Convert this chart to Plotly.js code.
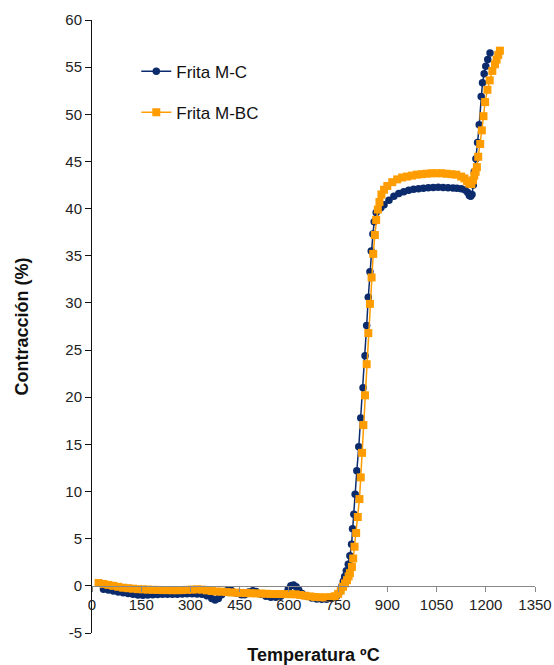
<!DOCTYPE html>
<html>
<head>
<meta charset="utf-8">
<script src="https://cdn.plot.ly/plotly-3.0.1.min.js"></script>
<style>html,body{margin:0;padding:0;background:#fff;}#chart{width:554px;height:665px;}</style>
</head>
<body>
<div id="chart"></div>
<script>
// Frita M-C (navy, circles)
const tempMC = [35,50,65,80,95,110,125,140,155,170,185,200,215,230,245,260,275,290,305,320,335,350,365,375,385,395,405,415,425,440,455,465,478,490,500,515,530,545,560,575,588,598,606,614,622,630,640,655,670,685,700,715,730,745,752,758,762,766,770,775,781,786,791,794,798,802,807,813,819,826,832,837,842,847,851,856,860,866,872,880,890,905,920,935,950,965,980,995,1010,1025,1040,1055,1070,1085,1100,1112,1125,1137,1145,1150,1154,1158,1162,1165,1170,1175,1180,1186,1190,1195,1200,1206,1213];
const contrMC = [-0.35,-0.45,-0.55,-0.65,-0.73,-0.82,-0.9,-0.97,-1.0,-0.98,-0.95,-0.92,-0.9,-0.9,-0.9,-0.88,-0.86,-0.85,-0.85,-0.87,-0.9,-1.05,-1.35,-1.5,-1.35,-0.95,-0.6,-0.45,-0.5,-0.75,-0.95,-0.95,-0.65,-0.52,-0.6,-0.9,-1.1,-1.2,-1.2,-1.1,-0.8,-0.35,0.0,0.1,-0.1,-0.45,-0.8,-1.1,-1.3,-1.4,-1.43,-1.42,-1.35,-1.1,-0.8,-0.4,0.0,0.5,1.0,1.6,2.3,3.2,4.4,6.05,7.6,9.7,12.2,14.75,17.8,21.0,24.4,27.6,30.6,33.3,35.5,37.3,38.6,39.6,39.9,40.1,40.4,40.9,41.3,41.6,41.8,41.95,42.05,42.1,42.15,42.2,42.25,42.26,42.25,42.22,42.18,42.15,42.1,41.97,41.7,41.4,41.3,41.5,42.5,43.9,45.3,47.0,48.9,51.9,53.35,54.3,55.1,55.8,56.5];

// Frita M-BC (orange, squares)
const tempMBC = [20,35,50,65,80,95,110,125,140,155,170,185,200,215,230,245,260,275,290,305,320,335,350,365,380,395,410,425,440,455,470,485,500,515,530,545,560,575,590,605,620,635,650,665,680,695,710,725,740,750,758,765,771,777,782,786,792,796,800,805,810,815,819,823,827,832,837,842,847,852,857,862,866,871,876,882,890,900,915,930,945,960,975,990,1005,1020,1035,1050,1065,1080,1095,1110,1125,1135,1143,1150,1156,1161,1165,1169,1173,1177,1183,1188,1193,1198,1205,1212,1220,1228,1233,1238,1243];
const contrMBC = [0.3,0.2,0.1,0.0,-0.1,-0.2,-0.25,-0.3,-0.35,-0.37,-0.4,-0.42,-0.43,-0.45,-0.45,-0.46,-0.46,-0.45,-0.42,-0.4,-0.37,-0.4,-0.48,-0.55,-0.6,-0.62,-0.66,-0.7,-0.72,-0.75,-0.77,-0.78,-0.8,-0.82,-0.84,-0.86,-0.87,-0.87,-0.88,-0.88,-0.9,-0.97,-1.05,-1.12,-1.18,-1.21,-1.22,-1.2,-1.1,-0.85,-0.5,-0.1,0.26,0.6,1.0,1.35,2.0,2.9,4.15,5.6,7.3,9.2,11.5,14.1,17.05,20.2,23.5,26.8,29.9,32.7,35.2,37.2,38.8,39.9,40.7,41.5,42.0,42.4,42.8,43.1,43.3,43.4,43.5,43.6,43.65,43.7,43.75,43.75,43.75,43.7,43.65,43.6,43.4,43.2,42.9,42.65,42.6,43.0,43.5,43.9,44.4,45.5,46.85,48.3,49.8,51.3,52.6,53.6,54.6,55.3,55.8,56.3,56.75];

const xTicks = [0,150,300,450,600,750,900,1050,1200,1350];
const yTicks = [-5,0,5,10,15,20,25,30,35,40,45,50,55,60];

const navy = '#0b2b6c';
const orange = '#FF9D00';
const font = 'Arial, "Liberation Sans", sans-serif';

const traces = [
  {x: tempMC, y: contrMC, name: 'Frita M-C', type: 'scatter', mode: 'lines+markers',
   legendgroup: 'a',
   line: {color: navy, width: 1.5}, marker: {symbol: 'circle', size: 7.5, color: navy}},
  {x: tempMBC, y: contrMBC, name: 'Frita M-BC', type: 'scatter', mode: 'lines+markers',
   legendgroup: 'b',
   line: {color: orange, width: 1.5}, marker: {symbol: 'square', size: 8, color: orange}}
];

const layout = {
  width: 554, height: 665,
  margin: {l: 92, r: 19, t: 20, b: 32},
  paper_bgcolor: '#fff', plot_bgcolor: '#fff',
  font: {family: font, size: 15, color: '#222'},
  showlegend: true,
  legend: {x: 0.1, y: 0.945, xanchor: 'left', yanchor: 'top', bgcolor: 'rgba(0,0,0,0)',
           font: {family: font, size: 17, color: '#111'}, tracegroupgap: 16, traceorder: 'grouped'},
  xaxis: {range: [0, 1350], tickvals: xTicks, ticktext: xTicks.map(String),
          anchor: 'free', position: 5/65,
          showline: true, linecolor: '#888', linewidth: 1.5,
          ticks: 'outside', ticklen: 5, tickcolor: '#888', tickwidth: 1,
          showgrid: false, zeroline: false,
          tickfont: {family: font, size: 15, color: '#222'},
          title: {text: '<b>Temperatura ºC</b>', font: {family: font, size: 18, color: '#111'}, standoff: 36}},
  yaxis: {range: [-5, 60], tickvals: yTicks, ticktext: yTicks.map(String),
          showline: true, linecolor: '#111', linewidth: 1,
          ticks: 'outside', ticklen: 6, tickcolor: '#111',
          showgrid: false, zeroline: false,
          tickfont: {family: font, size: 15, color: '#222'},
          title: {text: '<b>Contracción (%)</b>', font: {family: font, size: 18, color: '#111'}, standoff: 32}}
};

Plotly.newPlot('chart', traces, layout, {displayModeBar: false, staticPlot: true});
</script>
</body>
</html>
